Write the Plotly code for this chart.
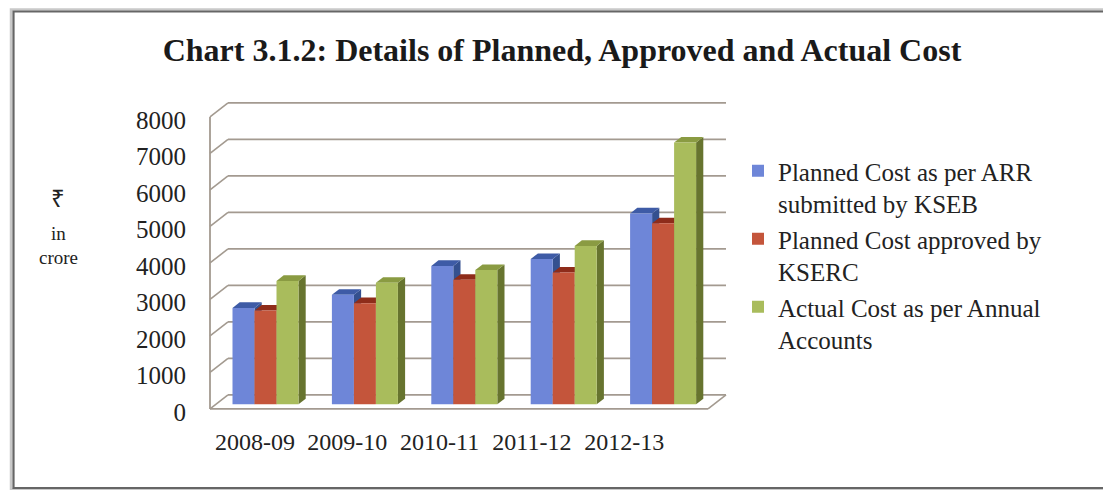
import plotly.graph_objects as go

# ---- data -------------------------------------------------------------
years = ["2008-09", "2009-10", "2010-11", "2011-12", "2012-13"]
planned_arr = [2640, 3000, 3790, 3980, 5230]      # Planned Cost as per ARR submitted by KSEB
planned_approved = [2570, 2770, 3410, 3610, 4960]  # Planned Cost approved by KSERC
actual_cost = [3380, 3330, 3680, 4340, 7170]       # Actual Cost as per Annual Accounts
y_ticks = [0, 1000, 2000, 3000, 4000, 5000, 6000, 7000, 8000]

series_names = [
    "Planned Cost as per ARR<br>submitted by KSEB",
    "Planned Cost approved by<br>KSERC",
    "Actual Cost as per Annual<br>Accounts",
]
series_values = [planned_arr, planned_approved, actual_cost]

# front / top / side shading of each pseudo-3D column
front_colors = ["#6E86D8", "#C4553B", "#A9BC5C"]
top_colors = ["#3E5BA6", "#8E2C1A", "#8A9B42"]
side_colors = ["#34508F", "#7A2818", "#67742F"]

# ---- geometry (pixels on the 1103x490 page) ---------------------------
W, H = 1103, 490
PLOT_L, PLOT_R, PLOT_T, PLOT_B = 200, 740, 95, 415
X0_PX, PX_PER_CAT = 265.5, 99.4     # category 0 centre, spacing
Y0_PX, PX_PER_VAL = 404.3, 0.0365   # value 0 on column plane, px per unit

x_range = [(PLOT_L - X0_PX) / PX_PER_CAT, (PLOT_R - X0_PX) / PX_PER_CAT]
y_range = [(Y0_PX - PLOT_B) / PX_PER_VAL, (Y0_PX - PLOT_T) / PX_PER_VAL]

# depth vectors (axis units)
WALL_DX, WALL_DY = 18 / PX_PER_CAT, 14 / PX_PER_VAL   # full floor depth
COL_FRAC_FRONT, COL_FRAC_DEPTH = 0.33, 0.40
FRONT_DX, FRONT_DY = -COL_FRAC_FRONT * WALL_DX, -COL_FRAC_FRONT * WALL_DY
BACK_DX, BACK_DY = FRONT_DX + WALL_DX, FRONT_DY + WALL_DY
COL_DX, COL_DY = COL_FRAC_DEPTH * WALL_DX, COL_FRAC_DEPTH * WALL_DY

GROUP_W = 0.664
BAR_W = GROUP_W / 3

LEFT_FRONT_X = (210 - X0_PX) / PX_PER_CAT
RIGHT_FRONT_X = (708 - X0_PX) / PX_PER_CAT


def px_to_paper_x(px):
    return (px - PLOT_L) / (PLOT_R - PLOT_L)


def px_to_paper_y(py):
    return (PLOT_B - py) / (PLOT_B - PLOT_T)


GRID_COLOR = "#A39A90"
FONT = "Liberation Serif"
TEXT_COLOR = "#222222"

shapes = []

# walls: left wall edges, back-wall gridlines, floor
lx_f, lx_b = LEFT_FRONT_X, LEFT_FRONT_X + WALL_DX
rx_f, rx_b = RIGHT_FRONT_X, RIGHT_FRONT_X + WALL_DX
shapes.append(dict(type="line", xref="x", yref="y", layer="below",
                   x0=lx_f, y0=y_ticks[0] + FRONT_DY, x1=lx_f, y1=y_ticks[-1] + FRONT_DY,
                   line=dict(color=GRID_COLOR, width=1.8)))
for v in y_ticks:
    shapes.append(dict(type="line", xref="x", yref="y", layer="below",
                       x0=lx_f, y0=v + FRONT_DY, x1=lx_b, y1=v + BACK_DY,
                       line=dict(color=GRID_COLOR, width=1.6)))
    shapes.append(dict(type="line", xref="x", yref="y", layer="below",
                       x0=lx_b, y0=v + BACK_DY, x1=rx_b, y1=v + BACK_DY,
                       line=dict(color=GRID_COLOR, width=1.6)))
shapes.append(dict(type="line", xref="x", yref="y", layer="below",
                   x0=lx_f, y0=FRONT_DY, x1=rx_f, y1=FRONT_DY,
                   line=dict(color=GRID_COLOR, width=1.8)))
shapes.append(dict(type="line", xref="x", yref="y", layer="below",
                   x0=rx_f, y0=FRONT_DY, x1=rx_b, y1=BACK_DY,
                   line=dict(color=GRID_COLOR, width=1.6)))

# column side and top faces, painted left to right
for i in range(len(years)):
    for k, vals in enumerate(series_values):
        v = vals[i]
        xl = i - GROUP_W / 2 + k * BAR_W
        xr = xl + BAR_W
        side = (f"M{xr},0 L{xr + COL_DX},{COL_DY} L{xr + COL_DX},{v + COL_DY} "
                f"L{xr},{v} Z")
        top = (f"M{xl},{v} L{xl + COL_DX},{v + COL_DY} L{xr + COL_DX},{v + COL_DY} "
               f"L{xr},{v} Z")
        shapes.append(dict(type="path", xref="x", yref="y", layer="below", path=side,
                           fillcolor=side_colors[k], line=dict(width=0)))
        shapes.append(dict(type="path", xref="x", yref="y", layer="below", path=top,
                           fillcolor=top_colors[k], line=dict(width=0)))

# outer frame
shapes.append(dict(type="rect", xref="paper", yref="paper",
                   x0=px_to_paper_x(11), y0=px_to_paper_y(489), x1=px_to_paper_x(1125),
                   y1=px_to_paper_y(9.5), line=dict(color="#C9C9C9", width=2.5), layer="above"))
shapes.append(dict(type="rect", xref="paper", yref="paper",
                   x0=px_to_paper_x(13.5), y0=px_to_paper_y(488), x1=px_to_paper_x(1125),
                   y1=px_to_paper_y(11.5), line=dict(color="#666666", width=2.2), layer="above"))

fig = go.Figure()
for k, vals in enumerate(series_values):
    fig.add_trace(go.Bar(
        x=list(range(len(years))), y=vals, name=series_names[k],
        marker=dict(color=front_colors[k], line=dict(width=0)),
        hovertemplate="%{y}<extra></extra>",
    ))

# category labels sit slightly tighter than the column groups
x_tick_pos = [(255 + 92.3 * i - X0_PX) / PX_PER_CAT for i in range(len(years))]


def side_label(text, py, size):
    return dict(text=text, x=px_to_paper_x(58), y=px_to_paper_y(py),
                xref="paper", yref="paper", xanchor="center", yanchor="middle",
                showarrow=False, font=dict(family=FONT, size=size, color=TEXT_COLOR))


fig.update_layout(
    width=W, height=H,
    margin=dict(l=PLOT_L, r=W - PLOT_R, t=PLOT_T, b=H - PLOT_B, autoexpand=False),
    paper_bgcolor="white", plot_bgcolor="white",
    barmode="group", bargap=1 - GROUP_W, bargroupgap=0,
    title=dict(text="Chart 3.1.2: Details of Planned, Approved and Actual Cost",
               font=dict(family=FONT, size=32, color="#1a1a1a", weight="bold"),
               x=562 / W, xanchor="center", xref="container",
               y=1 - 50 / H, yanchor="middle", yref="container"),
    xaxis=dict(range=x_range, showgrid=False, zeroline=False, showline=False,
               tickmode="array", tickvals=x_tick_pos, ticktext=years, ticks="",
               ticklabelstandoff=10,
               tickfont=dict(family=FONT, size=24, color=TEXT_COLOR)),
    yaxis=dict(range=y_range, showgrid=False, zeroline=False, showline=False,
               tickmode="array", tickvals=[v + FRONT_DY for v in y_ticks],
               ticktext=[str(v) for v in y_ticks], ticks="",
               ticklabelshift=3, ticklabelstandoff=13,
               tickfont=dict(family=FONT, size=25, color=TEXT_COLOR)),
    legend=dict(x=px_to_paper_x(738), y=px_to_paper_y(148), xanchor="left", yanchor="top",
                font=dict(family=FONT, size=25, color=TEXT_COLOR),
                bgcolor="rgba(0,0,0,0)", valign="top", traceorder="normal",
                tracegroupgap=0),
    shapes=shapes,
    annotations=[
        side_label("₹", 199, 24),
        side_label("in", 233, 19),
        side_label("crore", 257, 19),
    ],
)

fig.write_html("out.html")
